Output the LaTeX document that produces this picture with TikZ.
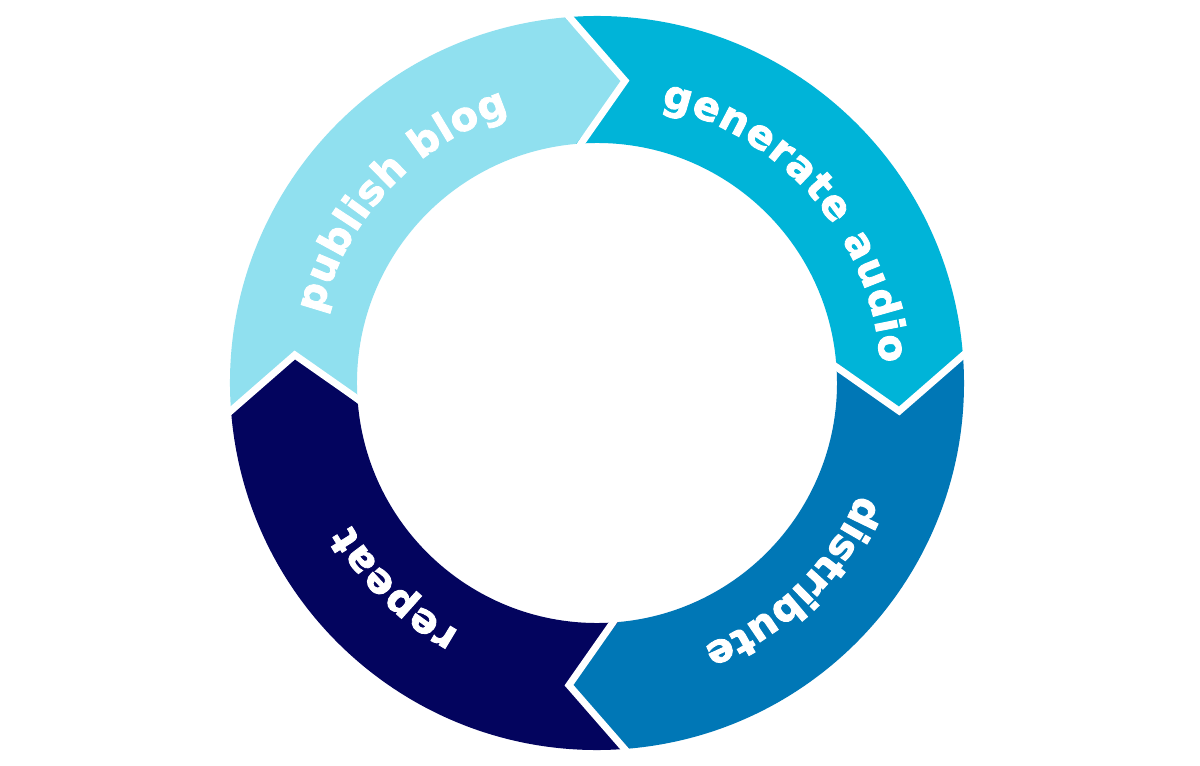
\documentclass[tikz,border=0pt]{standalone}
\usepackage{fontspec}
\newfontfamily\arcfont{DejaVu Sans}[BoldFeatures={FakeBold=2.2}]
\usetikzlibrary{decorations.text}
\definecolor{cLight}{HTML}{90E0EF}
\definecolor{cSky}{HTML}{00B4D8}
\definecolor{cBlue}{HTML}{0077B6}
\definecolor{cNavy}{HTML}{03045E}
\newcommand\Rout{367}
\newcommand\Rin{240}
\newcommand\Rmid{303.5}
\newcommand\ringseg[3]{%
  \fill[#1] (#2+5:\Rout) arc[start angle=#2+5, end angle=#3+5, radius=\Rout]
    -- (#3-5.3:\Rmid) -- (#3+5:\Rin)
    arc[start angle=#3+5, end angle=#2+5, radius=\Rin]
    -- (#2-5.3:\Rmid) -- cycle;}
\newcommand\ringgap[1]{%
  \coordinate (go#1) at (#1+5:\Rout+6);
  \coordinate (gt#1) at (#1-5.3:\Rmid);
  \coordinate (gi#1) at (#1+5:\Rin-6);
  \draw[gapline] (go#1) -- (gt#1) -- (gi#1);}
\begin{document}
\begin{tikzpicture}[x=1pt,y=1pt,
  gapline/.style={draw=white,line width=7pt,line join=miter,line cap=butt},
  arclabel/.style={decorate,decoration={text along path,text align=fit to path,
     text color=white,text={|\arcfont\bfseries\fontsize{40}{44}\selectfont|#1}}}]
\useasboundingbox[fill=white] (-597,-383) rectangle (603,383);
\ringseg{cLight}{180}{90}
\ringseg{cSky}{90}{0}
\ringseg{cBlue}{0}{-90}
\ringseg{cNavy}{270}{180}
\ringgap{90}
\ringgap{0}
\ringgap{-90}
\ringgap{180}
\path[arclabel={publish blog}] (166:284) arc[start angle=166,end angle=108,radius=284];
\path[arclabel={generate audio}] (77:284) arc[start angle=77,end angle=4,radius=284];
\path[arclabel={distribute}] (-23:284) arc[start angle=-23,end angle=-68,radius=284];
\path[arclabel={repeat}] (241:284) arc[start angle=241,end angle=210,radius=284];
\end{tikzpicture}
\end{document}
